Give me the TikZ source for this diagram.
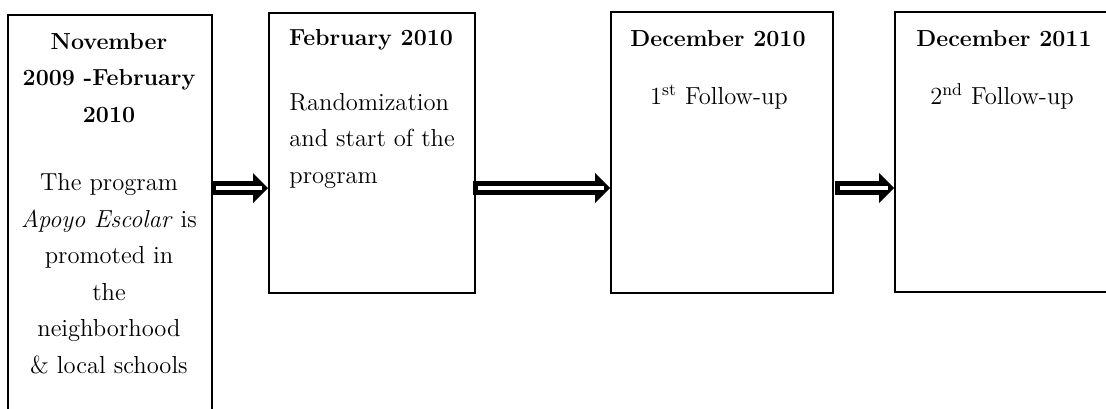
\documentclass[tikz,border=0pt]{standalone}
\usetikzlibrary{arrows.meta,positioning}
\begin{document}
\begin{tikzpicture}[x=0.5pt,y=-0.5pt]
\tikzset{boite/.style={draw, line width=0.8pt, anchor=north west, inner sep=0pt},
  titre/.style={font=\fontsize{11.6}{18.25}\selectfont\bfseries, align=center, anchor=base, inner sep=0pt},
  texte/.style={font=\fontsize{12.3}{18.25}\selectfont, align=center, anchor=base, inner sep=0pt},
  fleche/.style={line width=7pt, -{Triangle[length=7.5pt,width=15pt,line width=0pt]},
    postaction={draw=white, line width=2pt, shorten <=2.5pt, shorten >=3pt, -}}}
\useasboundingbox (0,0) rectangle (1106,408);
\clip (0,0) rectangle (1106,408);
\node[boite, minimum width=102pt, minimum height=215pt] (B1) at (7,14) {};
\node[boite, minimum width=103pt, minimum height=140pt] (B2) at (268,12) {};
\node[boite, minimum width=111pt, minimum height=140.5pt] (B3) at (610,11) {};
\node[boite, minimum width=120pt, minimum height=140pt] (B4) at (894,11) {};
% anchor base = last line
\node[titre] (T1) at (109,122) {November\\2009 -February\\2010};
\node[texte] (X1) at (109,373) {The program\\\textit{Apoyo Escolar} is\\promoted in\\the\\neighborhood\\\& local schools};
\node[titre] (T2) at (371,45) {February 2010};
\node[texte, align=left, anchor=base west] (X2) at (289,183) {Randomization\\and start of the\\program};
\node[titre] (T3) at (718,46) {December 2010};
\node[texte] (X3) at (719,104) {1\textsuperscript{st} Follow-up};
\node[titre] (T4) at (1004,46) {December 2011};
\node[texte] (X4) at (1002,104) {2\textsuperscript{nd} Follow-up};
\coordinate (rang) at (0,188);
\draw[fleche] ([xshift=-1pt]B1.east |- rang) -- (B2.west |- rang);
\draw[fleche] ([xshift=-1.5pt]B2.east |- rang) -- (B3.west |- rang);
\draw[fleche] ([xshift=0.5pt]B3.east |- rang) -- (B4.west |- rang);
\end{tikzpicture}
\end{document}
